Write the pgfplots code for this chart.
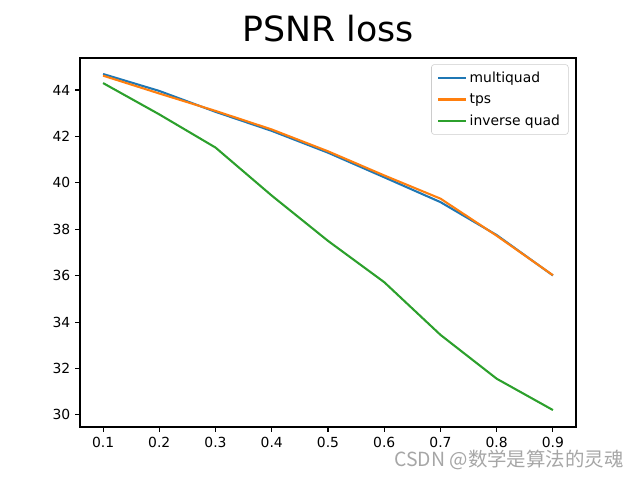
\documentclass[border=0pt]{standalone}
\usepackage{pgfplots}
\pgfplotsset{compat=1.18}
\usepackage{fontspec}
\setmainfont{DejaVu Sans}
\newfontfamily\cjk{Noto Sans CJK SC}
\definecolor{c0}{HTML}{1F77B4}
\definecolor{c1}{HTML}{FF7F0E}
\definecolor{c2}{HTML}{2CA02C}
\begin{document}
\begin{tikzpicture}[x=1pt,y=1pt]
\path[use as bounding box] (0,0) rectangle (460.8,345.6);
\begin{axis}[
  at={(57.6pt,38.16pt)}, anchor=south west,
  width=357.12pt, height=265.68pt, scale only axis,
  xmin=0.059, xmax=0.941, ymin=29.48, ymax=45.38,
  xtick={0.1,0.2,0.3,0.4,0.5,0.6,0.7,0.8,0.9},
  ytick={30,32,34,36,38,40,42,44},
  x tick label style={/pgf/number format/.cd, fixed, fixed zerofill, precision=1},
  tick align=outside, major tick length=3.5pt,
  tick style={black, line width=0.8pt},
  xtick pos=bottom, ytick pos=left,
  axis line style={line width=0.8pt},
  tick label style={font=\fontsize{10}{12}\selectfont},
  /pgf/number format/assume math mode=true,
  title={PSNR loss},
  title style={at={(0.5,1)}, anchor=base, yshift=6pt, font=\fontsize{25}{30}\selectfont},
  legend style={at={(0.985,0.983)}, anchor=north east, draw=black!20, rounded corners=2pt,
    font=\fontsize{10}{12}\selectfont, inner xsep=4pt, inner ysep=3pt, row sep=2.8pt},
  legend cell align=left,
  legend image code/.code={\draw[#1] (0pt,0pt) -- (20pt,0pt);},
]
\addplot[c0, line width=1.5pt] coordinates {
(0.1,44.69) (0.2,43.96) (0.3,43.06) (0.4,42.24) (0.5,41.30) (0.6,40.24) (0.7,39.17) (0.8,37.75) (0.9,36.01)};
\addlegendentry{multiquad}
\addplot[c1, line width=1.5pt] coordinates {
(0.1,44.62) (0.2,43.85) (0.3,43.10) (0.4,42.30) (0.5,41.36) (0.6,40.32) (0.7,39.32) (0.8,37.72) (0.9,36.02)};
\addlegendentry{tps}
\addplot[c2, line width=1.5pt] coordinates {
(0.1,44.30) (0.2,42.95) (0.3,41.52) (0.4,39.45) (0.5,37.50) (0.6,35.72) (0.7,33.45) (0.8,31.56) (0.9,30.21)};
\addlegendentry{inverse quad}
\end{axis}
\node[anchor=base, text=black!35, font=\cjk\fontsize{14}{16}\selectfont, inner sep=0pt] at (366.5,9.4) {CSDN @数学是算法的灵魂};
\end{tikzpicture}
\end{document}
